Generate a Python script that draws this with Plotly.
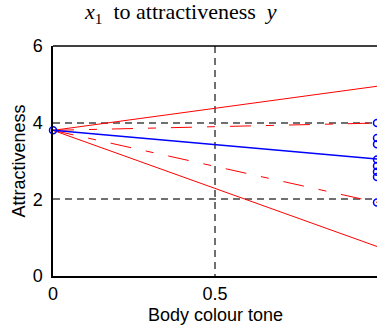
import plotly.graph_objects as go

# Data
x_ends = [0, 1]
mean_line = [3.8, 3.05]
upper_solid = [3.8, 4.95]
lower_solid = [3.8, 0.77]
upper_dashdot = [3.8, 3.99]
lower_dashdot = [3.8, 1.92]
start_point_x = [0]
start_point_y = [3.8]
end_points_y = [3.99, 3.6, 3.44, 3.04, 2.87, 2.72, 2.58, 1.92]
x_tickvals = [0, 0.5]
x_ticktext = ["0", "0.5"]
y_tickvals = [0, 2, 4, 6]

fig = go.Figure()

red = "#ff0000"
blue = "#0000ff"
dashdot = "21px,15px,8px,15px"

fig.add_trace(go.Scatter(x=x_ends, y=upper_solid, mode="lines",
                         line=dict(color=red, width=1)))
fig.add_trace(go.Scatter(x=x_ends, y=lower_solid, mode="lines",
                         line=dict(color=red, width=1)))
fig.add_trace(go.Scatter(x=x_ends, y=upper_dashdot, mode="lines",
                         line=dict(color=red, width=1, dash=dashdot)))
fig.add_trace(go.Scatter(x=x_ends, y=lower_dashdot, mode="lines",
                         line=dict(color=red, width=1, dash=dashdot)))
fig.add_trace(go.Scatter(x=x_ends, y=mean_line, mode="lines",
                         line=dict(color=blue, width=1.5)))
fig.add_trace(go.Scatter(x=start_point_x, y=start_point_y, mode="markers",
                         marker=dict(symbol="circle-open", size=7, color=blue,
                                     line=dict(width=1.5, color=blue)),
                         cliponaxis=False))
fig.add_trace(go.Scatter(x=[1] * len(end_points_y), y=end_points_y, mode="markers",
                         marker=dict(symbol="circle-open", size=7, color=blue,
                                     line=dict(width=1.5, color=blue)),
                         cliponaxis=False))

font_sans = "Liberation Sans, Arial, sans-serif"

fig.update_layout(
    width=377, height=329,
    margin=dict(l=53, r=0, t=46, b=53),
    paper_bgcolor="white", plot_bgcolor="white",
    showlegend=False,
    font=dict(family=font_sans, size=18, color="black"),
    xaxis=dict(range=[0, 1.0], tickvals=x_tickvals, ticktext=x_ticktext,
               showgrid=True, gridcolor="#707070", griddash="7px,5px", gridwidth=1.5,
               zeroline=False, showline=True, linecolor="black", linewidth=1.5,
               ticks="", ticklabelstandoff=1),
    yaxis=dict(range=[0, 6], tickvals=y_tickvals,
               showgrid=True, gridcolor="#707070", griddash="7px,5px", gridwidth=1.5,
               zeroline=False, showline=True, linecolor="black", linewidth=1.5,
               ticks="", ticklabelstandoff=5,
               title=dict(text="Attractiveness", standoff=2,
                          font=dict(family=font_sans, size=18))),
    shapes=[dict(type="line", xref="paper", yref="paper", x0=0, x1=1, y0=1, y1=1,
                 line=dict(color="black", width=1.5))],
    annotations=[
        dict(text="<i>x</i><sub>1</sub>&nbsp; to attractiveness&nbsp; <i>y</i>",
             xref="paper", yref="paper", x=0.395, y=1, yshift=17,
             xanchor="center", yanchor="bottom", showarrow=False,
             font=dict(family="Liberation Serif, Times New Roman, serif",
                       size=22, color="black")),
        dict(text="Body colour tone", xref="paper", yref="paper",
             x=0.5, y=0, yshift=-39, xanchor="center", yanchor="middle",
             showarrow=False, font=dict(family=font_sans, size=18, color="black")),
    ],
)

fig.write_html("out.html")
